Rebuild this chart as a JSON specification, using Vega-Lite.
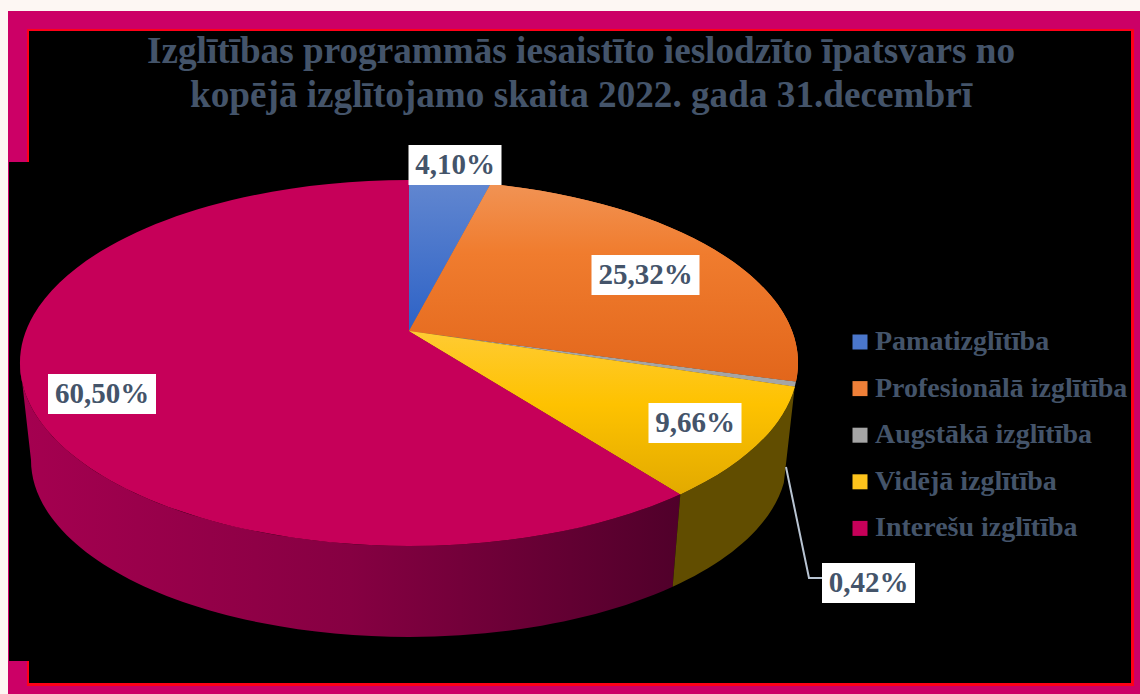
{
"$schema":"https://vega.github.io/schema/vega-lite/v6.json",
"width":1140,"height":694,"padding":0,"autosize":"none",
"background":"#fdf7f3",
"title":{"text":["Izglītības programmās iesaistīto ieslodzīto īpatsvars no","kopējā izglītojamo skaita 2022. gada 31.decembrī"],"anchor":"start","align":"center","dx":581,"offset":-115,"font":"Liberation Serif","fontWeight":"bold","fontSize":37.2,"lineHeight":44,"color":"#44546a"},
"config":{"view":{"stroke":null}},
"data":{"values":[
{"name":"Pamatizglītība","value":4.10},
{"name":"Profesionālā izglītība","value":25.32},
{"name":"Augstākā izglītība","value":0.42},
{"name":"Vidējā izglītība","value":9.66},
{"name":"Interešu izglītība","value":60.50}]},
"transform":[
{"window":[{"op":"sum","field":"value","as":"cum"}],"frame":[null,0]},
{"calculate":"(datum.cum-datum.value)/100*2*PI","as":"t1"},
{"calculate":"datum.cum/100*2*PI","as":"t2"},
{"calculate":"datum.t1-0.183*sin(datum.t1)","as":"p1"},
{"calculate":"datum.t2-0.183*sin(datum.t2)","as":"p2"},
{"calculate":"'M0,0L'+(389*sin(datum.p1))+','+(32-183*cos(datum.p1))+'A389 183 0 '+(datum.p2-datum.p1>PI?1:0)+' 1 '+(389*sin(datum.p2))+','+(32-183*cos(datum.p2))+'Z'","as":"topPath"},
{"calculate":"min(datum.p2,3*PI/2)","as":"wb"},
{"calculate":"'M'+(389*sin(datum.p1))+','+(32-183*cos(datum.p1))+'A389 183 0 0 1 '+(389*sin(datum.wb))+','+(32-183*cos(datum.wb))+'L'+(378*sin(datum.wb))+','+(129-177*cos(datum.wb))+'A378 177 0 0 0 '+(378*sin(datum.p1))+','+(129-177*cos(datum.p1))+'Z'","as":"wallPath"},
{"calculate":"{'Pamatizglītība':455,'Profesionālā izglītība':645.5,'Augstākā izglītība':868.5,'Vidējā izglītība':695,'Interešu izglītība':102}[datum.name]","as":"lx"},
{"calculate":"{'Pamatizglītība':165,'Profesionālā izglītība':275,'Augstākā izglītība':583,'Vidējā izglītība':423,'Interešu izglītība':394}[datum.name]","as":"ly"},
{"calculate":"datum.value>=10?'M-54,-20H54V20H-54Z':'M-46.5,-20H46.5V20H-46.5Z'","as":"boxPath"},
{"calculate":"replace(format(datum.value,'.2f'),'.',',')+'%'","as":"label"}
],
"layer":[
{"data":{"values":[{"part":"frame"}]},"transform":[],"mark":{"type":"rect","color":"#cc0066"},"encoding":{"x":{"datum":8,"type":"quantitative","scale":{"domain":[0,1140],"nice":false,"zero":false},"axis":null},"x2":{"datum":1140},"y":{"datum":11,"type":"quantitative","scale":{"domain":[694,0],"nice":false,"zero":false},"axis":null},"y2":{"datum":694}}},
{"data":{"values":[{"part":"red"}]},"transform":[],"mark":{"type":"rect","color":"#ff0018"},"encoding":{"x":{"datum":27,"type":"quantitative","scale":{"domain":[0,1140],"nice":false,"zero":false},"axis":null},"x2":{"datum":1134},"y":{"datum":29,"type":"quantitative","scale":{"domain":[694,0],"nice":false,"zero":false},"axis":null},"y2":{"datum":686}}},
{"data":{"values":[{"part":"black"}]},"transform":[],"mark":{"type":"rect","color":"#000000"},"encoding":{"x":{"datum":29,"type":"quantitative","scale":{"domain":[0,1140],"nice":false,"zero":false},"axis":null},"x2":{"datum":1131},"y":{"datum":31,"type":"quantitative","scale":{"domain":[694,0],"nice":false,"zero":false},"axis":null},"y2":{"datum":683}}},
{"data":{"values":[{"part":"blackLeft"}]},"transform":[],"mark":{"type":"rect","color":"#000000"},"encoding":{"x":{"datum":9,"type":"quantitative","scale":{"domain":[0,1140],"nice":false,"zero":false},"axis":null},"x2":{"datum":29},"y":{"datum":162,"type":"quantitative","scale":{"domain":[694,0],"nice":false,"zero":false},"axis":null},"y2":{"datum":661}}},
{"transform":[{"filter":"datum.name==='Interešu izglītība'"}],"mark":{"type":"point","filled":true,"size":4,"opacity":1,"color":{"gradient":"linear","x1":0,"y1":0,"x2":1,"y2":0,"stops":[{"offset":0,"color":"#a50050"},{"offset":0.5,"color":"#860042"},{"offset":1,"color":"#50002a"}]}},"encoding":{"x":{"datum":409,"type":"quantitative","scale":{"domain":[0,1140],"nice":false,"zero":false},"axis":null},"y":{"datum":331,"type":"quantitative","scale":{"domain":[694,0],"nice":false,"zero":false},"axis":null},"shape":{"field":"wallPath","type":"nominal","scale":null,"legend":null}}},
{"transform":[{"filter":"datum.name==='Vidējā izglītība'"}],"mark":{"type":"point","filled":true,"size":4,"opacity":1,"color":"#614d00"},"encoding":{"x":{"datum":409,"type":"quantitative","scale":{"domain":[0,1140],"nice":false,"zero":false},"axis":null},"y":{"datum":331,"type":"quantitative","scale":{"domain":[694,0],"nice":false,"zero":false},"axis":null},"shape":{"field":"wallPath","type":"nominal","scale":null,"legend":null}}},
{"mark":{"type":"point","filled":true,"size":4,"opacity":1},"encoding":{"x":{"datum":409,"type":"quantitative","scale":{"domain":[0,1140],"nice":false,"zero":false},"axis":null},"y":{"datum":331,"type":"quantitative","scale":{"domain":[694,0],"nice":false,"zero":false},"axis":null},"shape":{"field":"topPath","type":"nominal","scale":null,"legend":null},
"color":{"field":"name","type":"nominal","sort":null,"scale":{"domain":["Pamatizglītība","Profesionālā izglītība","Augstākā izglītība","Vidējā izglītība","Interešu izglītība"],"range":["#4a76cb","#ef7f38","#a5a5a5","#fdc31c","#c60059"]},
"legend":{"title":null,"orient":"none","legendX":846,"legendY":328,"symbolType":"square","symbolSize":225,"symbolStrokeWidth":0,"labelFont":"Liberation Serif","labelFontWeight":"bold","labelFontSize":28,"labelColor":"#44546a","labelOffset":1,"rowPadding":18.6,"labelLimit":300}}}},
{"transform":[{"filter":"datum.name==='Pamatizglītība'"}],"mark":{"type":"point","filled":true,"size":4,"opacity":1,"color":{"gradient":"linear","x1":0,"y1":0,"x2":0,"y2":1,"stops":[{"offset":0,"color":"#6287d0"},{"offset":1,"color":"#2d62c6"}]}},"encoding":{"x":{"datum":409,"type":"quantitative","scale":{"domain":[0,1140],"nice":false,"zero":false},"axis":null},"y":{"datum":331,"type":"quantitative","scale":{"domain":[694,0],"nice":false,"zero":false},"axis":null},"shape":{"field":"topPath","type":"nominal","scale":null,"legend":null}}},
{"transform":[{"filter":"datum.name==='Profesionālā izglītība'"}],"mark":{"type":"point","filled":true,"size":4,"opacity":1,"color":{"gradient":"linear","x1":0,"y1":0,"x2":0,"y2":1,"stops":[{"offset":0,"color":"#f19354"},{"offset":0.35,"color":"#f07c2e"},{"offset":1,"color":"#e2661b"}]}},"encoding":{"x":{"datum":409,"type":"quantitative","scale":{"domain":[0,1140],"nice":false,"zero":false},"axis":null},"y":{"datum":331,"type":"quantitative","scale":{"domain":[694,0],"nice":false,"zero":false},"axis":null},"shape":{"field":"topPath","type":"nominal","scale":null,"legend":null}}},
{"transform":[{"filter":"datum.name==='Vidējā izglītība'"}],"mark":{"type":"point","filled":true,"size":4,"opacity":1,"color":{"gradient":"linear","x1":0,"y1":0,"x2":0,"y2":1,"stops":[{"offset":0,"color":"#ffcb33"},{"offset":0.45,"color":"#fec200"},{"offset":1,"color":"#e2aa00"}]}},"encoding":{"x":{"datum":409,"type":"quantitative","scale":{"domain":[0,1140],"nice":false,"zero":false},"axis":null},"y":{"datum":331,"type":"quantitative","scale":{"domain":[694,0],"nice":false,"zero":false},"axis":null},"shape":{"field":"topPath","type":"nominal","scale":null,"legend":null}}},
{"transform":[{"filter":"datum.name==='Augstākā izglītība'"}],"mark":{"type":"point","filled":false,"size":4,"opacity":1,"stroke":"#b8c4d2","strokeWidth":2},"encoding":{"x":{"datum":409,"type":"quantitative","scale":{"domain":[0,1140],"nice":false,"zero":false},"axis":null},"y":{"datum":331,"type":"quantitative","scale":{"domain":[694,0],"nice":false,"zero":false},"axis":null},"shape":{"value":"M377,136L400,247L414,247"}}},
{"mark":{"type":"point","filled":true,"size":4,"opacity":1,"color":"#ffffff"},"encoding":{"x":{"field":"lx","type":"quantitative","scale":{"domain":[0,1140],"nice":false,"zero":false},"axis":null},"y":{"field":"ly","type":"quantitative","scale":{"domain":[694,0],"nice":false,"zero":false},"axis":null},"shape":{"field":"boxPath","type":"nominal","scale":null,"legend":null}}},
{"mark":{"type":"text","font":"Liberation Serif","fontWeight":"bold","fontSize":29,"color":"#44546a","baseline":"middle","align":"center"},"encoding":{"x":{"field":"lx","type":"quantitative","scale":{"domain":[0,1140],"nice":false,"zero":false},"axis":null},"y":{"field":"ly","type":"quantitative","scale":{"domain":[694,0],"nice":false,"zero":false},"axis":null},"text":{"field":"label"}}}
]
}
